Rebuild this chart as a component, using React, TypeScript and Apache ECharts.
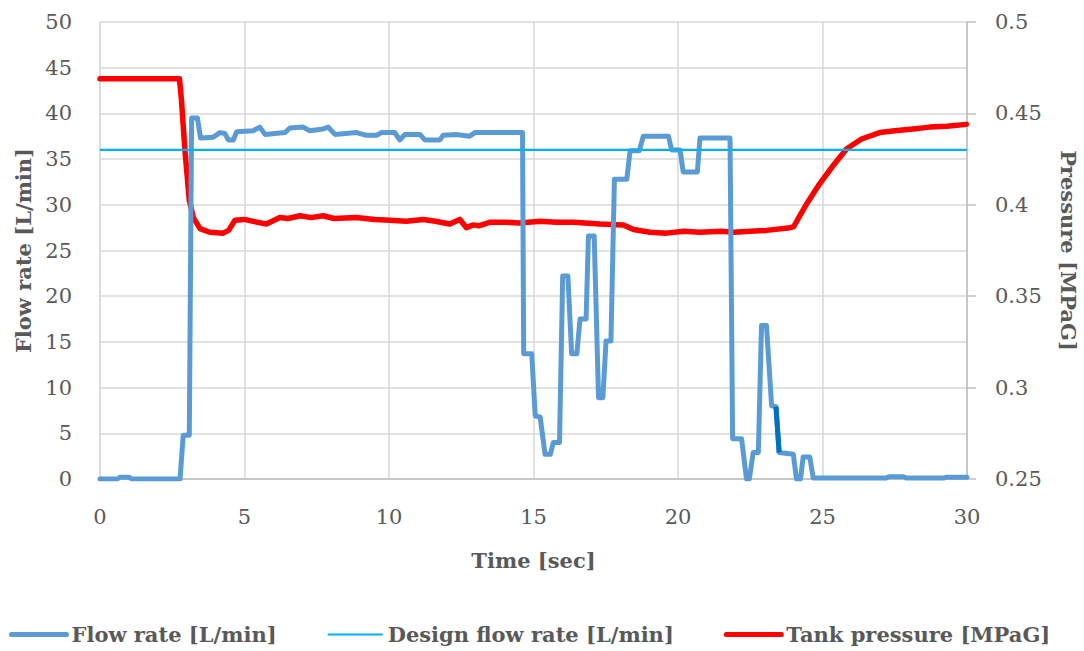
import React, { useEffect, useRef } from "react";
import * as echarts from "echarts";

// Flow rate [L/min] samples (time in sec, value)
const flowTime = [
  0, 0.6, 0.7, 1.0, 1.1, 2.77, 2.88, 3.09, 3.17, 3.37, 3.48,
  3.92, 4.15, 4.32, 4.44, 4.61, 4.73, 5.3, 5.53, 5.71, 6.4, 6.57, 7.03, 7.26, 7.72, 7.9,
  8.13, 8.88, 9.22, 9.57, 9.74, 10.2, 10.37, 10.55, 11.07, 11.24, 11.76, 11.87, 12.33,
  12.79, 12.97, 14.52, 14.62, 14.66, 14.94, 15.06, 15.23, 15.4, 15.58, 15.69, 15.9,
  16.01, 16.19, 16.32, 16.5, 16.61, 16.82, 16.9, 17.1, 17.25, 17.4, 17.51, 17.68,
  17.8, 18.23, 18.34, 18.66, 18.8, 19.67, 19.78, 20.07, 20.18, 20.67, 20.76, 21.8,
  21.89, 22.2, 22.37, 22.47, 22.6, 22.78, 22.89, 23.06, 23.24, 23.39, 23.5, 23.99,
  24.1, 24.24, 24.33, 24.56, 24.68, 27.2, 27.3, 27.8, 27.9, 29.2, 29.3, 30,
];
const flowValue = [
  0, 0, 0.2, 0.2, 0, 0, 4.8, 4.8, 39.5, 39.5, 37.3,
  37.4, 37.9, 37.8, 37.1, 37.1, 38.0, 38.1, 38.5, 37.7, 37.9, 38.4, 38.5, 38.1, 38.3, 38.5,
  37.7, 37.9, 37.6, 37.6, 37.9, 37.9, 37.1, 37.7, 37.7, 37.1, 37.1, 37.6, 37.7,
  37.5, 37.9, 37.9, 37.9, 13.7, 13.7, 6.9, 6.8, 2.7, 2.7, 4.0, 4.0,
  22.2, 22.2, 13.7, 13.7, 17.5, 17.5, 26.6, 26.6, 8.9, 8.9, 15.1, 15.1,
  32.8, 32.8, 35.9, 35.9, 37.5, 37.5, 36.0, 36.0, 33.6, 33.6, 37.3, 37.3,
  4.4, 4.4, 0, 0, 2.9, 2.9, 16.8, 16.8, 8.0, 7.9, 2.9, 2.7,
  0, 0, 2.4, 2.4, 0.1, 0.1, 0.25, 0.25, 0.1, 0.1, 0.2, 0.2,
];
// Highlighted (darker) flow segment
const flowDarkTime = [23.39, 23.5];
const flowDarkValue = [7.9, 2.9];

// Design flow rate [L/min]
const designTime = [0, 30];
const designValue = [36, 36];

// Tank pressure [MPaG]
const pressureTime = [
  0, 2.75, 2.82, 2.94, 3.09, 3.23, 3.46, 3.8, 4.26, 4.45, 4.67, 5.0, 5.42, 5.76, 6.22,
  6.5, 6.92, 7.3, 7.72, 8.1, 8.87, 9.5, 10.03, 10.6, 11.18, 11.6, 12.1, 12.45, 12.68,
  12.9, 13.1, 13.31, 13.5, 14.0, 14.52, 15.23, 15.8, 16.38, 17.3, 18.11, 18.46, 19.03,
  19.6, 20.2, 20.76, 21.5, 21.91, 23.06, 23.87, 24.0, 24.45, 24.9, 25.37, 25.83, 26.35,
  26.98, 27.5, 28.13, 28.71, 29.3, 29.98,
];
const pressureValue = [
  0.469, 0.469, 0.457, 0.4295, 0.4025, 0.393, 0.387, 0.385, 0.3845, 0.386, 0.3915, 0.392,
  0.3905, 0.3895, 0.393, 0.3925, 0.394, 0.393, 0.394, 0.3925, 0.393, 0.392, 0.3915, 0.391,
  0.392, 0.391, 0.3895, 0.392, 0.3875, 0.389, 0.3885, 0.3895, 0.3905, 0.3905, 0.39, 0.391,
  0.3905, 0.3905, 0.3895, 0.389, 0.3865, 0.385, 0.3845, 0.3855, 0.385, 0.3855, 0.385,
  0.386, 0.3875, 0.388, 0.4005, 0.4115, 0.4215, 0.4305, 0.436, 0.4395, 0.4405, 0.4415,
  0.4425, 0.443, 0.444,
];

const seriesNames = ["Flow rate [L/min]", "Design flow rate [L/min]", "Tank pressure [MPaG]"];

const zip = (a: number[], b: number[]) => a.map((t, i) => [t, b[i]]);

const FONT = "DejaVu Serif";
const TXT = "#595959";

export default function App() {
  const ref = useRef<HTMLDivElement>(null);
  useEffect(() => {
    const chart = echarts.init(ref.current!, null, { renderer: "svg" });
    const lineBase = { type: "line" as const, showSymbol: false, symbol: "none", animation: false };
    chart.setOption({
      animation: false,
      textStyle: { fontFamily: FONT, color: TXT },
      grid: { left: 100, right: 117, top: 22, bottom: 172, outerBoundsMode: "none", containLabel: false },
      legend: {
        data: [
          { name: seriesNames[0], lineStyle: { width: 5, color: "#5B9BD5", cap: "round" } },
          { name: seriesNames[1], lineStyle: { width: 2.2, color: "#00B0F0" } },
          { name: seriesNames[2], lineStyle: { width: 5, color: "#FF0000", cap: "round" } },
        ],
        left: 4,
        top: 619,
        itemWidth: 55,
        itemHeight: 2,
        itemGap: 50,
        itemStyle: { opacity: 0 },
        textStyle: { fontFamily: FONT, fontSize: 21, fontWeight: "bold", color: TXT },
      },
      xAxis: {
        type: "value",
        min: 0,
        max: 30,
        interval: 5,
        name: "Time [sec]",
        nameLocation: "middle",
        nameGap: 71,
        nameTextStyle: { fontFamily: FONT, fontSize: 21, fontWeight: "bold", color: TXT },
        axisLine: { show: true, lineStyle: { color: "#BFBFBF", width: 1.5 } },
        axisTick: { show: false },
        axisLabel: { fontFamily: FONT, fontSize: 21, color: TXT, margin: 27 },
        splitLine: { show: true, lineStyle: { color: "#D9D9D9", width: 1.5 } },
      },
      yAxis: [
        {
          type: "value",
          min: 0,
          max: 50,
          interval: 5,
          name: "Flow rate [L/min]",
          nameLocation: "middle",
          nameGap: 65,
          nameTextStyle: { fontFamily: FONT, fontSize: 21, fontWeight: "bold", color: TXT },
          axisLine: { show: true, lineStyle: { color: "#D9D9D9", width: 1.5 } },
          axisTick: { show: false },
          axisLabel: { fontFamily: FONT, fontSize: 21, color: TXT, margin: 28 },
          splitLine: { show: true, lineStyle: { color: "#D9D9D9", width: 1.5 } },
        },
        {
          type: "value",
          min: 0.25,
          max: 0.5,
          interval: 0.05,
          position: "right",
          name: "Pressure [MPaG]",
          nameLocation: "middle",
          nameRotate: -90,
          nameGap: 91,
          nameTextStyle: { fontFamily: FONT, fontSize: 21, fontWeight: "bold", color: TXT },
          axisLine: { show: true, lineStyle: { color: "#BFBFBF", width: 1.5 } },
          axisTick: { show: true, inside: false, length: 9, lineStyle: { color: "#BFBFBF", width: 1.5 } },
          axisLabel: {
            fontFamily: FONT,
            fontSize: 21,
            color: TXT,
            margin: 28,
            formatter: (v: number) => String(Math.round(v * 100) / 100),
          },
          splitLine: { show: false },
        },
      ],
      series: [
        {
          ...lineBase,
          name: seriesNames[2],
          yAxisIndex: 1,
          z: 2,
          data: zip(pressureTime, pressureValue),
          lineStyle: { color: "#FF0000", width: 5.5, cap: "round", join: "round" },
          itemStyle: { color: "#FF0000" },
        },
        {
          ...lineBase,
          name: seriesNames[0],
          yAxisIndex: 0,
          z: 3,
          data: zip(flowTime, flowValue),
          lineStyle: { color: "#5B9BD5", width: 5, cap: "round", join: "round" },
          itemStyle: { color: "#5B9BD5" },
        },
        {
          ...lineBase,
          name: "flow-highlight",
          yAxisIndex: 0,
          z: 4,
          data: zip(flowDarkTime, flowDarkValue),
          lineStyle: { color: "#0070C0", width: 5, cap: "butt", join: "round" },
          itemStyle: { color: "#0070C0" },
        },
        {
          ...lineBase,
          name: seriesNames[1],
          yAxisIndex: 0,
          z: 5,
          data: zip(designTime, designValue),
          lineStyle: { color: "#00B0F0", width: 2.2 },
          itemStyle: { color: "#00B0F0" },
        },
      ],
    });
    return () => chart.dispose();
  }, []);
  return (
    <div
      ref={ref}
      style={{ position: "fixed", left: 0, top: 0, width: 1084, height: 651, background: "#fff" }}
    />
  );
}
